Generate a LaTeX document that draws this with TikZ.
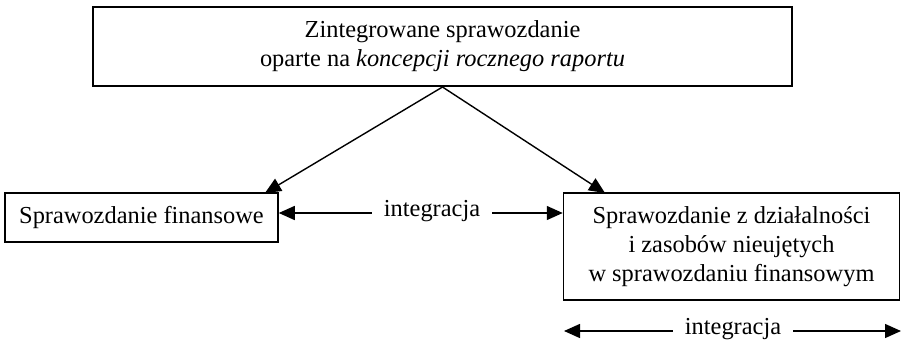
\documentclass[tikz,border=0pt]{standalone}
\usepackage{fontspec}
\setmainfont{Liberation Serif}
\usetikzlibrary{arrows.meta}
\tikzset{
  box/.style={draw, line width=0.75pt, align=center, inner sep=0pt,
    font=\fontsize{12.2}{14.5}\selectfont},
  lbl/.style={inner sep=0pt, font=\fontsize{12.2}{14.5}\selectfont},
  arr/.style={line width=0.7pt, -{Triangle[length=8pt,width=7pt]}},
}
\begin{document}
\begin{tikzpicture}[x=0.5pt,y=-0.5pt]
\useasboundingbox (0,0) rectangle (901,343);
\node[box, line width=1pt, minimum width=349.5pt, minimum height=39.5pt] (top) at (442.5,46.5)
  {Zintegrowane sprawozdanie\\oparte na \textit{koncepcji rocznego raportu}};
\node[box, minimum width=136.5pt, minimum height=24.5pt] (left) at (141.5,217.5)
  {Sprawozdanie finansowe};
\node[box, minimum width=168pt, minimum height=53.5pt] (right) at (731.5,246.5)
  {Sprawozdanie z działalności\\i zasobów nieujętych\\w sprawozdaniu finansowym};
\node[lbl, minimum width=60pt, anchor=center] (i1) at (432,211) {integracja};
\node[lbl, minimum width=60pt, anchor=center] (i2) at (733,329) {integracja};
\coordinate (c1) at (265,193);
\coordinate (c2) at (605,193);
\coordinate (b1) at (564,331);
\coordinate (b2) at (901,331);
\draw[arr] (top.south) -- (c1);
\draw[arr] (top.south) -- (c2);
\draw[arr] (i1.west |- 0,213) -- (left.east |- 0,213);
\draw[arr] (i1.east |- 0,213) -- (right.west |- 0,213);
\draw[arr] (i2.west |- b1) -- (b1);
\draw[arr] (i2.east |- b2) -- (b2);
\end{tikzpicture}
\end{document}
